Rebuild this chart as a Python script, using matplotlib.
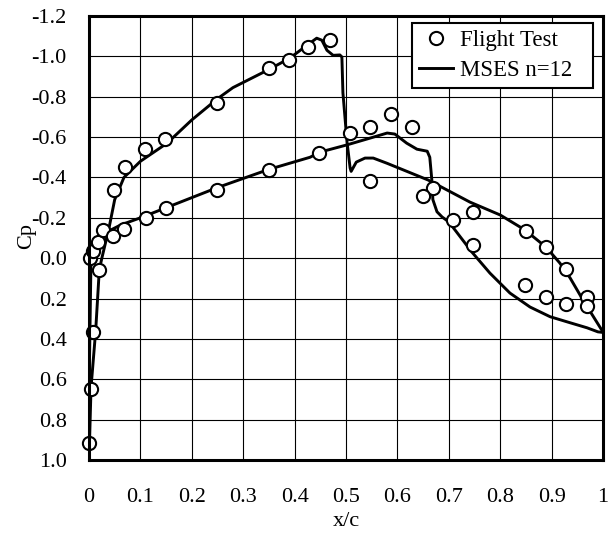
import matplotlib
matplotlib.use("Agg")
import matplotlib.pyplot as plt
import numpy as np

plt.rcParams['font.family'] = ['Liberation Serif', 'DejaVu Serif']
plt.rcParams['axes.unicode_minus'] = False

# Flight test data (x/c, Cp)
ft_upper_x = [0.002, 0.008, 0.018, 0.027, 0.049, 0.070, 0.109, 0.148, 0.249, 0.350,
              0.390, 0.426, 0.469, 0.508, 0.547, 0.588, 0.628, 0.669, 0.709, 0.748,
              0.850, 0.889, 0.928, 0.969]
ft_upper_cp = [0.0, -0.035, -0.08, -0.14, -0.34, -0.45, -0.54, -0.59, -0.77, -0.94,
               -0.98, -1.046, -1.08, -0.62, -0.65, -0.715, -0.65, -0.35, -0.19, -0.23,
               -0.135, -0.055, 0.055, 0.19]
ft_lower_x = [0.0, 0.004, 0.008, 0.019, 0.047, 0.068, 0.110, 0.149, 0.249, 0.350,
              0.448, 0.547, 0.650, 0.748, 0.848, 0.889, 0.928, 0.969]
ft_lower_cp = [0.915, 0.65, 0.366, 0.06, -0.11, -0.145, -0.20, -0.25, -0.34, -0.435,
               -0.52, -0.38, -0.31, -0.065, 0.133, 0.19, 0.227, 0.237]

# MSES n=12 curves
mses1_x = [0.0, 0.004, 0.013, 0.020, 0.025, 0.039, 0.050, 0.068, 0.100, 0.152,
           0.200, 0.250, 0.280, 0.350, 0.390, 0.430, 0.443, 0.453, 0.463, 0.475,
           0.488, 0.492, 0.494, 0.502, 0.508, 0.510, 0.520, 0.537, 0.553, 0.580,
           0.660, 0.741, 0.800, 0.848, 0.889, 0.916, 0.936, 0.961, 1.0]
mses1_cp = [1.0, 0.64, 0.36, 0.06, 0.0, -0.15, -0.29, -0.40, -0.48, -0.57,
            -0.685, -0.79, -0.845, -0.935, -0.99, -1.066, -1.09, -1.08, -1.03, -1.005,
            -1.007, -0.997, -0.82, -0.576, -0.447, -0.43, -0.476, -0.496, -0.496, -0.47,
            -0.387, -0.278, -0.214, -0.14, -0.055, 0.024, 0.098, 0.207, 0.366]
mses2_x = [0.0, 0.001, 0.004, 0.015, 0.035, 0.062, 0.100, 0.150, 0.250, 0.350,
           0.430, 0.450, 0.500, 0.547, 0.580, 0.595, 0.618, 0.638, 0.658, 0.663,
           0.667, 0.669, 0.677, 0.687, 0.700, 0.745, 0.780, 0.819, 0.858, 0.897,
           0.936, 0.969, 0.990, 1.0]
mses2_cp = [1.0, 0.5, -0.006, -0.09, -0.13, -0.165, -0.20, -0.25, -0.35, -0.44,
            -0.50, -0.526, -0.56, -0.595, -0.62, -0.615, -0.57, -0.54, -0.53, -0.50,
            -0.387, -0.29, -0.23, -0.204, -0.18, -0.03, 0.074, 0.173, 0.242, 0.29,
            0.32, 0.345, 0.365, 0.368]

x_ticks = [0, 0.1, 0.2, 0.3, 0.4, 0.5, 0.6, 0.7, 0.8, 0.9, 1]
x_tick_labels = ['0', '0.1', '0.2', '0.3', '0.4', '0.5', '0.6', '0.7', '0.8', '0.9', '1']
y_ticks = [-1.2, -1.0, -0.8, -0.6, -0.4, -0.2, 0.0, 0.2, 0.4, 0.6, 0.8, 1.0]
y_tick_labels = ['-1.2', '-1.0', '-0.8', '-0.6', '-0.4', '-0.2', '0.0', '0.2', '0.4', '0.6', '0.8', '1.0']

fig = plt.figure(figsize=(6.15, 5.42), dpi=100)
ax = fig.add_axes([0.1447, 0.1513, 0.8358, 0.8192])

lw = 2.1
ax.plot(mses1_x, mses1_cp, color='black', lw=lw, zorder=3, label='MSES n=12',
        solid_joinstyle='round')
ax.plot(mses2_x, mses2_cp, color='black', lw=lw, zorder=3, solid_joinstyle='round')
ms = 9.5
ax.plot(ft_upper_x, ft_upper_cp, 'o', ms=ms, mfc='white', mec='black', mew=1.5,
        zorder=4, label='Flight Test', clip_on=False)
ax.plot(ft_lower_x, ft_lower_cp, 'o', ms=ms, mfc='white', mec='black', mew=1.5,
        zorder=4, clip_on=False)

ax.set_xlim(0, 1)
ax.set_ylim(1.0, -1.2)
ax.set_xticks(x_ticks)
ax.set_xticklabels(x_tick_labels)
ax.set_yticks(y_ticks)
ax.set_yticklabels(y_tick_labels)
ax.tick_params(axis='both', length=0, labelsize=16)
ax.tick_params(axis='x', pad=20)
ax.tick_params(axis='y', pad=16)
ax.grid(True, color='black', lw=0.8)
ax.set_axisbelow(True)
for s in ax.spines.values():
    s.set_linewidth(2.2)
    s.set_zorder(5)

ax.set_xlabel('x/c', fontsize=16)
ax.set_ylabel('Cp', fontsize=16)
ax.xaxis.set_label_coords(0.5, -0.118)
ax.yaxis.set_label_coords(-0.103, 0.505)

handles, labels = ax.get_legend_handles_labels()
order = [1, 0]
leg = ax.legend([handles[i] for i in order], [labels[i] for i in order],
                loc='upper left', bbox_to_anchor=(0.628, 0.834, 0.352, 0.15),
                mode='expand', fontsize=16.5,
                frameon=True, fancybox=False, edgecolor='black', framealpha=1,
                borderaxespad=0, handlelength=1.5, handletextpad=0.3,
                borderpad=0.3, labelspacing=0.4)
leg.get_frame().set_linewidth(1.5)
leg.set_zorder(6)

fig.savefig('out.png', dpi=100, facecolor='white')
